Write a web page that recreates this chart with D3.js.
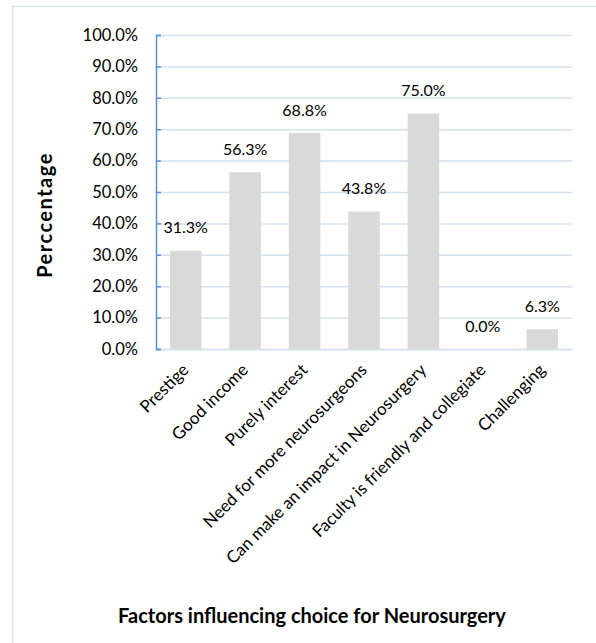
<!DOCTYPE html>
<html>
<head>
<meta charset="utf-8">
<script src="https://cdn.jsdelivr.net/npm/d3@7"></script>
<style>
  body { margin: 0; background: #fff; }
  text { font-family: Lato, "Noto Sans", sans-serif; fill: #000; }
</style>
</head>
<body>
<div id="chart"></div>
<script>
// datos del grafico
const factors = ["Prestige", "Good income", "Purely interest", "Need for more neurosurgeons",
                 "Can make an impact in Neurosurgery", "Faculty is friendly and collegiate", "Challenging"];
const percents = [0.313, 0.563, 0.688, 0.438, 0.75, 0.0, 0.063];
const yTicks = [0, 0.1, 0.2, 0.3, 0.4, 0.5, 0.6, 0.7, 0.8, 0.9, 1.0];

const width = 596;
const height = 643;
const margin = { top: 35, right: 24, bottom: 294, left: 156 };
const innerW = width - margin.left - margin.right;
const innerH = height - margin.top - margin.bottom;

const svg = d3.select("div#chart").append("svg").attr("width", width).attr("height", height);

// marco exterior
svg.append("rect")
    .attr("x", 12.5).attr("y", 6.5)
    .attr("width", width).attr("height", height)
    .attr("fill", "none").attr("stroke", "#d9e3f1").attr("stroke-width", 1.5);

const g = svg.append("g").attr("transform", `translate(${margin.left}, ${margin.top})`);

const x = d3.scaleBand().domain(factors).range([0, innerW]).paddingInner(0.47).paddingOuter(0.235);
const y = d3.scaleLinear().domain([0, 1]).range([innerH, 0]);

// lineas de cuadricula
g.append("g")
    .attr("class", "grid")
    .call(d3.axisLeft(y).tickValues(yTicks).tickSize(-innerW).tickFormat(""))
    .call(s => s.select(".domain").remove())
    .call(s => s.selectAll("line").attr("stroke", "#d3e0f2").attr("stroke-width", 1.5));

// barras
g.selectAll(".bar")
    .data(percents)
    .enter().append("rect")
    .attr("class", "bar")
    .attr("x", (d, i) => x(factors[i]))
    .attr("y", d => y(d))
    .attr("width", x.bandwidth())
    .attr("height", d => innerH - y(d))
    .attr("fill", "#d9d9d9");

// etiquetas de datos
g.selectAll(".label")
    .data(percents)
    .enter().append("text")
    .attr("class", "label")
    .attr("x", (d, i) => x(factors[i]) + x.bandwidth() / 2)
    .attr("y", d => y(d) - 23)
    .attr("dy", "0.35em")
    .attr("text-anchor", "middle")
    .style("font-size", "16px")
    .text(d => d3.format(".1%")(d));

// eje x
const xAxisG = g.append("g")
    .attr("transform", `translate(0, ${innerH})`)
    .call(d3.axisBottom(x).tickSize(0).tickFormat(""));
xAxisG.select(".domain").attr("stroke", "#d3e0f2").attr("stroke-width", 1.5);

g.selectAll(".xlabel")
    .data(factors)
    .enter().append("text")
    .attr("class", "xlabel")
    .attr("text-anchor", "end")
    .attr("transform", d => `translate(${x(d) + x.bandwidth() / 2 + 4}, ${innerH + 22}) rotate(-45)`)
    .style("font-size", "17px")
    .text(d => d);

// eje y
const yAxisG = g.append("g")
    .call(d3.axisLeft(y).tickValues(yTicks).tickSize(-5).tickPadding(18).tickFormat(d3.format(".1%")));
yAxisG.select(".domain").attr("stroke", "#5b8fd2").attr("stroke-width", 1.5);
yAxisG.selectAll(".tick line").attr("stroke", "#5b8fd2").attr("stroke-width", 1.5);
yAxisG.selectAll(".tick text").style("font-size", "16.5px").style("font-family", "Lato, sans-serif").attr("fill", "#000");

// titulos
svg.append("text")
    .attr("transform", "translate(45, 215) rotate(-90)")
    .attr("text-anchor", "middle")
    .attr("dy", "0.35em")
    .style("font-size", "20px").style("font-weight", "bold").style("letter-spacing", "1.5px")
    .text("Perccentage");

svg.append("text")
    .attr("x", 312).attr("y", 616)
    .attr("dy", "0.35em")
    .attr("text-anchor", "middle")
    .style("font-size", "20px").style("font-weight", "bold")
    .text("Factors influencing choice for Neurosurgery");
</script>
</body>
</html>
